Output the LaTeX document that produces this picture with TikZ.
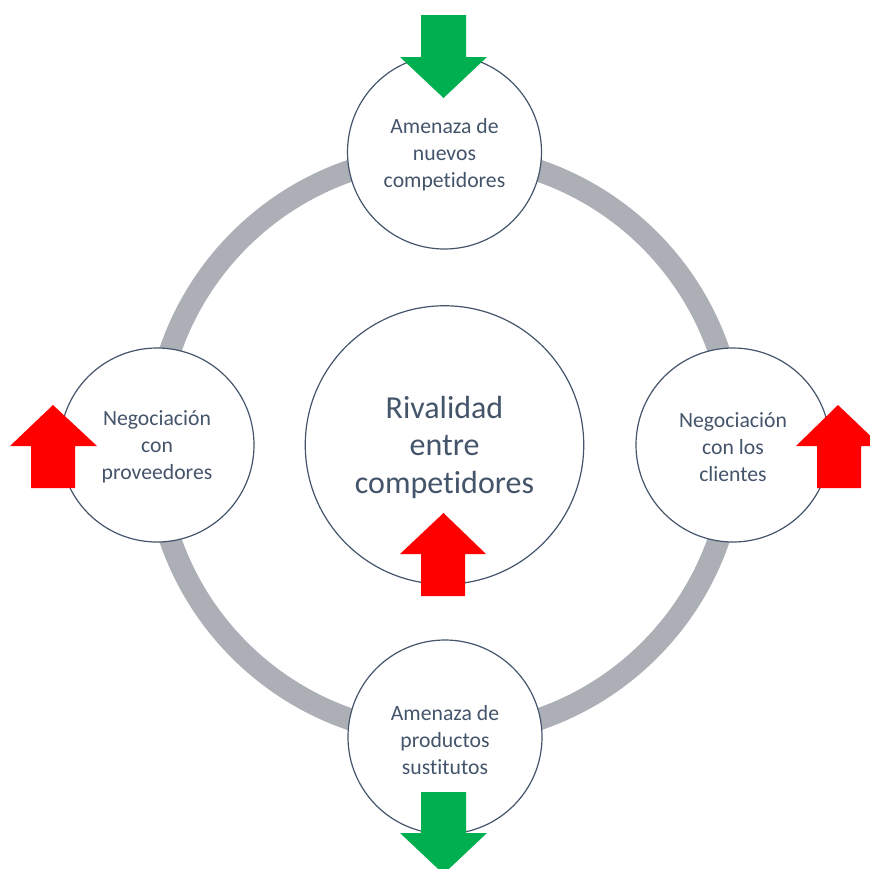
\documentclass[tikz,border=0pt]{standalone}
\usepackage{fontspec}
\setmainfont{Carlito}[Ligatures={NoCommon}]
\definecolor{ringgray}{RGB}{172,175,182}
\definecolor{edgeblue}{RGB}{68,84,106}
\definecolor{txt}{RGB}{68,84,106}
\definecolor{arrgreen}{RGB}{0,176,80}
\definecolor{arrred}{RGB}{255,0,0}
\newcommand{\lowered}[3]{\raisebox{-#1}[\height][\depth]{\parbox{#2}{\centering #3}}}
\tikzset{
  force/.style={circle, draw=edgeblue, line width=1.2pt, fill=white, minimum size=194pt, inner sep=0pt, align=center, text=txt, font=\fontsize{21.7}{27}\selectfont},
  rival/.style={circle, draw=edgeblue, line width=1.2pt, fill=white, minimum size=274pt, inner sep=0pt, align=center, text=txt, font=\fontsize{32}{37.5}\selectfont},
  ring/.style={draw=ringgray, line width=22pt},
  greenarrow/.style={fill=arrgreen},
  redarrow/.style={fill=arrred}
}
\begin{document}
\begin{tikzpicture}[x=1pt,y=-1pt]
\useasboundingbox (0,0) rectangle (870,868);
\coordinate (c) at (444.5,445);
\draw[ring] (c) circle (290);
\node[rival] (rival) at (c) {\lowered{2pt}{260pt}{Rivalidad\\entre\\competidores}};
\node[force] (top) at (444.5,152) {\lowered{3pt}{180pt}{Amenaza de\\nuevos\\competidores}};
\node[force] (bottom) at (445,737) {\lowered{3pt}{180pt}{Amenaza de\\productos\\sustitutos}};
\node[force] (left) at (157,445) {\lowered{2pt}{180pt}{Negociación\\con\\proveedores}};
\node[force] (right) at (733,445) {\lowered{2pt}{180pt}{Negociación\\con los\\clientes}};
% top green arrow (down)
\fill[greenarrow] (421,15) -- (466,15) -- (466,57) -- (487,57) -- (443.5,98) -- (400,57) -- (421,57) -- cycle;
% bottom green arrow (down)
\fill[greenarrow] (421,792) -- (466,792) -- (466,833) -- (487,833) -- (443.5,874) -- (400,833) -- (421,833) -- cycle;
% left red arrow (up)
\fill[redarrow] (31,488) -- (75,488) -- (75,446) -- (97,446) -- (53,405) -- (10,446) -- (31,446) -- cycle;
% right red arrow (up)
\fill[redarrow] (817,488) -- (861,488) -- (861,446) -- (881,446) -- (838,405) -- (796,446) -- (817,446) -- cycle;
% center red arrow (up)
\fill[redarrow] (421,596) -- (465,596) -- (465,554) -- (486,554) -- (443.5,513) -- (400,554) -- (421,554) -- cycle;
\end{tikzpicture}
\end{document}
